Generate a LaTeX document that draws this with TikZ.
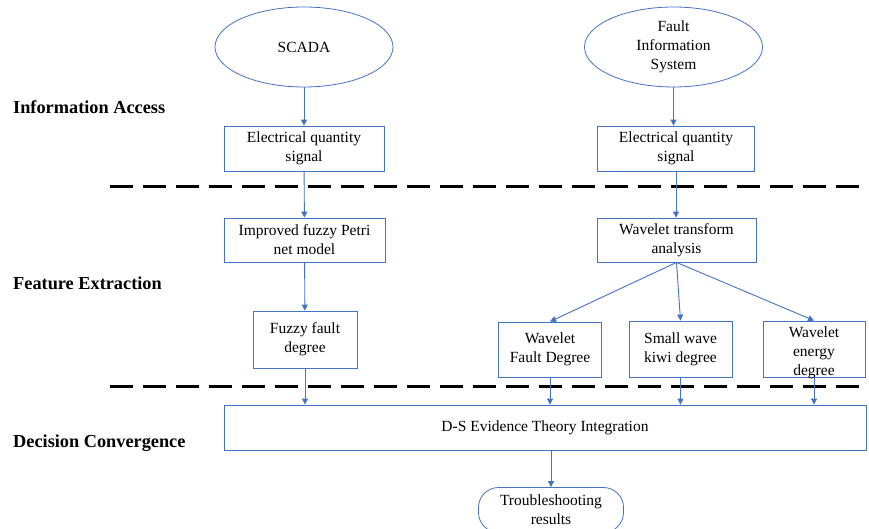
\documentclass[tikz,border=0pt]{standalone}
\usepackage{fontspec}
\setmainfont{Liberation Serif}
\usetikzlibrary{shapes.geometric,arrows.meta}
\definecolor{lineblue}{HTML}{4472C4}
\begin{document}
\begin{tikzpicture}[x=1pt,y=-1pt,
  every node/.style={font=\fontsize{15.5}{19}\selectfont, text=black},
  box/.style={draw=lineblue, line width=0.8pt, rectangle, align=center, inner sep=0pt},
  oval/.style={draw=lineblue, line width=0.8pt, ellipse, align=center, inner sep=0pt, minimum width=178pt, minimum height=80pt},
  term/.style={draw=lineblue, line width=0.8pt, rectangle, rounded corners=20pt, align=center, inner sep=0pt},
  arr/.style={draw=lineblue, line width=0.9pt, -{Triangle[length=6pt,width=6pt]}},
  sep/.style={draw=black, line width=3pt, dash pattern=on 23pt off 10pt},
  lab/.style={font=\fontsize{18.3}{22}\selectfont\bfseries, anchor=west, inner sep=0pt}
]
\useasboundingbox (0,0) rectangle (869,529);

% separators
\draw[sep] (110,187) -- (869,187);
\draw[sep] (110,386) -- (869,386);

% labels
\node[lab] (la) at (13,107) {Information Access};
\node[lab] (lf) at (13,283) {Feature Extraction};
\node[lab] (ld) at (13,443) {Decision Convergence};

% sources
\node[oval] (sc) at (304,47) {SCADA};
\node[oval] (fis) at (673.5,47) {Fault\\Information\\System};

% level 1
\node[box, minimum width=160pt, minimum height=45pt] (e1) at (304,148.5) {Electrical quantity\\signal};
\node[box, minimum width=157pt, minimum height=45pt] (e2) at (676,148.5) {Electrical quantity\\signal};

% level 2
\node[box, minimum width=161pt, minimum height=44pt] (petri) at (304.5,240) {Improved fuzzy Petri\\net model};
\node[box, minimum width=159pt, minimum height=44pt] (wt) at (676.5,240) {Wavelet transform\\analysis};

% level 3
\node[box, minimum width=104pt, minimum height=57pt] (fz) at (305,339.5) {Fuzzy fault\\degree};
\node[box, minimum width=103pt, minimum height=55pt] (wfd) at (550,349.5) {Wavelet\\Fault Degree};
\node[box, minimum width=103pt, minimum height=56pt] (sw) at (680.5,349) {Small wave\\kiwi degree};
\node[box, minimum width=102pt, minimum height=56pt,
  label={[yshift=-4pt, align=center, inner sep=0pt]center:Wavelet\\energy\\degree}] (en) at (814,349) {};

% decision
\node[box, minimum width=642pt, minimum height=45pt] (ds) at (545,427.5) {D-S Evidence Theory Integration};
\node[term, minimum width=145pt, minimum height=45pt] (ts) at (551,510) {Troubleshooting\\results};

% connectors
\draw[arr] (sc) -- (e1);
\draw[arr] (fis.south) -- (fis.south |- e2.north);
\draw[arr] (e1) -- (petri);
\draw[arr] (e2.south) -- (e2.south |- wt.north);
\draw[arr] (petri) -- (fz);
\draw[arr] (wt.south) -- (wfd.north);
\draw[arr] (wt.south) -- (sw.north);
\draw[arr] (wt.south) -- (en.north);
\draw[arr] (fz.south) -- (fz.south |- ds.north);
\draw[arr] (wfd.south) -- (wfd.south |- ds.north);
\draw[arr] (sw.south) -- (sw.south |- ds.north);
\draw[arr] (en.south) -- (en.south |- ds.north);
\draw[arr] (ts.north |- ds.south) -- (ts.north);
\end{tikzpicture}
\end{document}
